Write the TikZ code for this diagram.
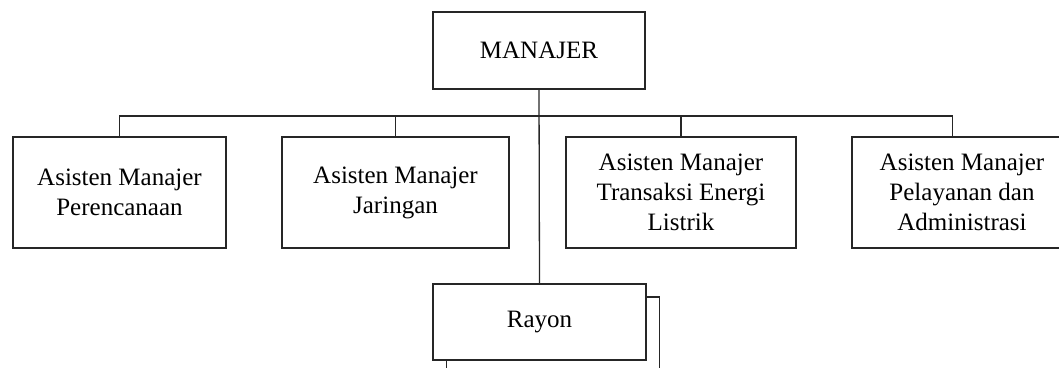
\documentclass[tikz,border=0pt]{standalone}
\usepackage{fontspec}
\setmainfont{Liberation Serif}
\usetikzlibrary{calc}
\begin{document}
\begin{tikzpicture}[x=1pt,y=-1pt,
  line width=1.3pt,
  unit/.style={draw=black!85, fill=white, rectangle, align=center, inner sep=0pt,
    font=\fontsize{25}{30}\selectfont},
  link/.style={draw=black!85, line width=1.3pt}]
\useasboundingbox (0,0) rectangle (1059,367);
\begin{scope}
\clip (0,0) rectangle (1059,367);
% top
\node[unit, minimum width=212pt, minimum height=77pt] (man) at (539,50.5) {MANAJER};
% assistant managers
\node[unit, minimum width=213pt, minimum height=111pt] (b1) at (119.5,192.5) {Asisten Manajer\\Perencanaan};
\node[unit, minimum width=227pt, minimum height=111pt] (b2) at (395.5,192.5) {Asisten Manajer\\Jaringan};
\node[unit, minimum width=230pt, minimum height=111pt] (b3) at (681,192.5) {Asisten Manajer\\Transaksi Energi\\Listrik};
\node[unit, minimum width=220pt, minimum height=111pt] (b4) at (962,192.5) {Asisten Manajer\\Pelayanan dan\\Administrasi};
% branch offices (stacked boxes)
\node[unit, minimum width=213pt, minimum height=76pt] (rayonB) at (553,335) {};
\node[unit, minimum width=213pt, minimum height=76pt] (rayon) at (539.5,322) {Rayon};
% connectors
\coordinate (busL) at (119,116);
\coordinate (b4top) at ([xshift=101pt]b4.north west);
\draw[link] (b1.north) -- (b1.north |- busL) -- (b4top |- busL) -- (b4top);
\draw[link] (b2.north) -- (b2.north |- busL);
\draw[link] (b3.north) -- (b3.north |- busL);
\draw[link] (man.south) -- (rayon.north);
\end{scope}
\end{tikzpicture}
\end{document}
